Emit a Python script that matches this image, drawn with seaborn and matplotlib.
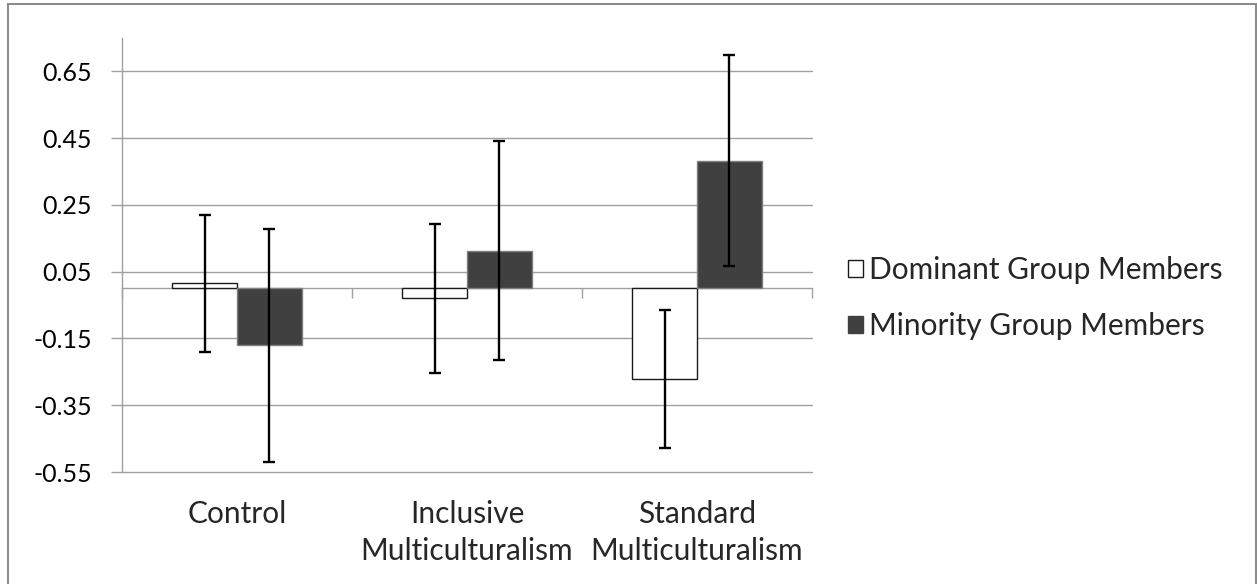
import matplotlib
matplotlib.use("Agg")
import matplotlib.pyplot as plt
from matplotlib.patches import Patch, Rectangle
import pandas as pd
import seaborn as sns

# Conditions, groups and the values plotted for each
conditions = ["Control", "Inclusive\nMulticulturalism", "Standard\nMulticulturalism"]
groups = ["Dominant Group Members", "Minority Group Members"]
dominant_means = [0.015, -0.030, -0.272]
minority_means = [-0.171, 0.113, 0.383]
dominant_err = [0.206, 0.222, 0.207]
minority_err = [0.350, 0.329, 0.315]
y_ticks = [-0.55, -0.35, -0.15, 0.05, 0.25, 0.45, 0.65]

df = pd.DataFrame({
    "condition": conditions * 2,
    "group": [groups[0]] * len(conditions) + [groups[1]] * len(conditions),
    "mean": dominant_means + minority_means,
})
means = {groups[0]: dominant_means, groups[1]: minority_means}
errors = {groups[0]: dominant_err, groups[1]: minority_err}
fills = {groups[0]: "white", groups[1]: "#404040"}
edges = {groups[0]: "#1a1a1a", groups[1]: "#808080"}

sns.set_theme(style="white")
plt.rcParams["font.family"] = ["Lato", "DejaVu Sans"]
TICK_FS = 18
TEXT_FS = 21.5
GRID = "#a0a0a0"

W, H = 1257, 584
fig = plt.figure(figsize=(W / 100, H / 100), dpi=100)
ax = fig.add_axes([122 / W, 1 - 472 / H, 690 / W, 434 / H])

sns.barplot(data=df, x="condition", y="mean", hue="group",
            order=conditions, hue_order=groups, palette=fills,
            saturation=1, width=0.565, gap=0, errorbar=None,
            legend=False, ax=ax, zorder=3)

for container, g in zip(ax.containers, groups):
    xs = []
    for bar in container:
        bar.set_edgecolor(edges[g])
        bar.set_linewidth(1.0)
        xs.append(bar.get_x() + bar.get_width() / 2)
    ax.errorbar(xs, means[g], yerr=errors[g], fmt="none", ecolor="black",
                elinewidth=1.7, capsize=4.4, capthick=1.7, zorder=5)

# Axes styling
ax.set_xlim(-0.5, len(conditions) - 0.5)
ax.set_ylim(-0.55, 0.75)
ax.set_yticks(y_ticks)
ax.set_yticklabels([f"{v:.2f}" for v in y_ticks], fontsize=TICK_FS, color="black")
ax.yaxis.grid(True, color=GRID, linewidth=1.0)
ax.set_axisbelow(True)
for gl in ax.get_ygridlines():
    gl.set_clip_on(False)
ax.tick_params(axis="y", direction="out", length=7.7, width=1.0,
               color=GRID, pad=14, left=True)

for side in ("top", "right"):
    ax.spines[side].set_visible(False)
ax.spines["left"].set_color(GRID)
ax.spines["left"].set_linewidth(1.0)
ax.spines["bottom"].set_position(("data", 0))
ax.spines["bottom"].set_color(GRID)
ax.spines["bottom"].set_linewidth(1.0)
ax.set_xticks([i - 0.5 for i in range(len(conditions) + 1)])
ax.set_xticklabels([])
ax.tick_params(axis="x", direction="out", length=7.5, width=1.0,
               color=GRID, bottom=True)
ax.set_xlabel("")
ax.set_ylabel("")

for i, label in enumerate(conditions):
    ax.annotate(label, xy=(i, 0), xycoords=("data", "axes fraction"),
                xytext=(0, -20), textcoords="offset points",
                ha="center", va="top", fontsize=TEXT_FS, linespacing=1.42)

handles = [Patch(facecolor=fills[g], edgecolor=edges[g] if g == groups[0] else fills[g],
                 linewidth=1.0) for g in groups]
fig.legend(handles, groups, loc="center left",
           bbox_to_anchor=(836 / W, 1 - 298 / H), frameon=False,
           fontsize=TEXT_FS, handlelength=0.5, handleheight=0.5,
           handletextpad=0.2, labelspacing=0.95, borderaxespad=0)

# Chart border
fig.patches.append(Rectangle((8 / W, -0.05), (W - 9) / W, (H - 4) / H + 0.05,
                             transform=fig.transFigure, fill=False,
                             edgecolor="#8c8c8c", linewidth=1.5))

fig.savefig("out.png", dpi=100)
